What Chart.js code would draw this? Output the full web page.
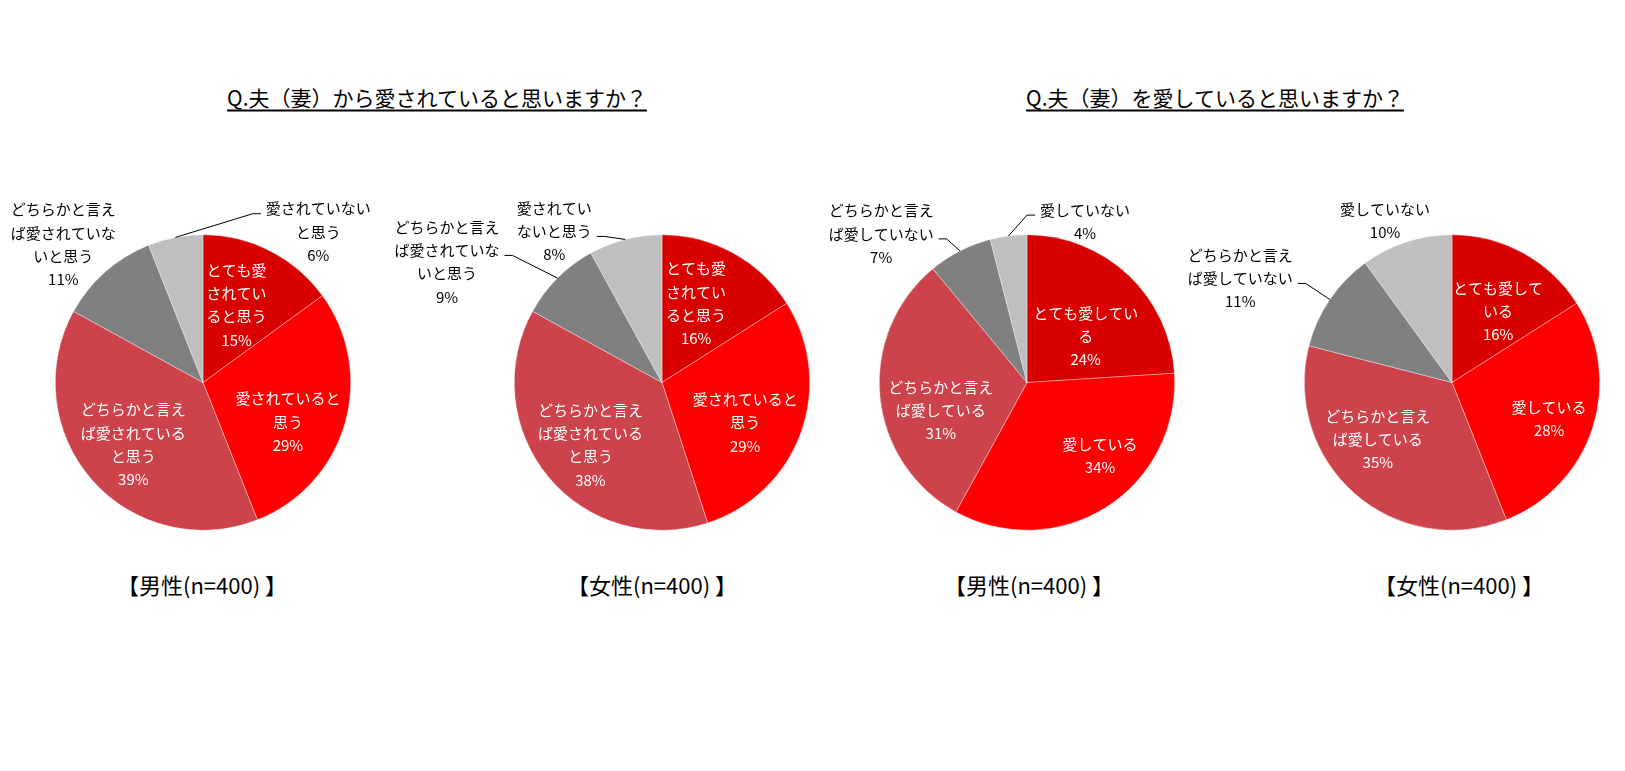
<!DOCTYPE html>
<html><head><meta charset="utf-8">
<script src="https://cdn.jsdelivr.net/npm/chart.js@4.4.0/dist/chart.umd.min.js"></script>
<style>
html,body{margin:0;padding:0;background:#fff;}
#wrap{position:relative;width:1625px;height:771px;overflow:hidden;background:#fff;}
canvas{position:absolute;left:0;top:0;}
.t{position:absolute;font-family:"Noto Sans CJK JP";color:#000;white-space:nowrap;transform:translate(-50%,-50%);line-height:1;}
.title{font-size:21px;text-decoration:underline;text-underline-offset:4px;text-decoration-thickness:1.5px;}
.sub{font-size:22px;}
</style></head>
<body>
<div id="wrap"></div>
<script>
// ---- data ----
const catsLoved = ["とても愛されていると思う","愛されていると思う","どちらかと言えば愛されていると思う","どちらかと言えば愛されていないと思う","愛されていないと思う"];
const catsLove = ["とても愛している","愛している","どちらかと言えば愛している","どちらかと言えば愛していない","愛していない"];
const lovedMale = [15,29,39,11,6];
const lovedFemale = [16,29,38,9,8];
const loveMale = [24,34,31,7,4];
const loveFemale = [16,28,35,11,10];
const titles = ["Q.夫（妻）から愛されていると思いますか？","Q.夫（妻）を愛していると思いますか？"];
const groupLabels = ["【男性(n=400) 】","【女性(n=400) 】","【男性(n=400) 】","【女性(n=400) 】"];
const colors = ["#D90000","#FF0000","#CC434B","#808080","#BFBFBF"];

// ---- layout ----
const W = 1625, H = 771, RAD = 148;
const charts = [
 {cats:catsLoved, data:lovedMale, cx:203, cy:382.5, wrap:[[4,8],[7],[7,14],[7,14],[7]],
  pos:[{k:.62,dx:-8,dy:4},{k:.62,dx:-3,dy:14},{k:.62,dx:-1,dy:1.5},{k:1,dx:-42,dy:-27,out:1},{k:1,dx:143,dy:-5.4,out:1,lead:0}]},
 {cats:catsLoved, data:lovedFemale, cx:662, cy:382.5, wrap:[[4,8],[7],[7,14],[7,14],[5]],
  pos:[{k:.62,dx:-10,dy:1.4},{k:.62,dx:-3,dy:9},{k:.62,dx:-1,dy:4},{k:1,dx:-110.6,dy:-16,out:1,lead:1},{k:1,dx:-71,dy:-8,out:1,lead:1}]},
 {cats:catsLove, data:loveMale, cx:1027, cy:382.5, wrap:[[7],[],[7],[7],[]],
  pos:[{k:.62,dx:-4,dy:20.6},{k:.62,dx:24,dy:-3.7},{k:.62,dx:5,dy:19},{k:1,dx:-78.8,dy:-17,out:1,lead:1},{k:1,dx:76.5,dy:-14.2,out:1,lead:0}]},
 {cats:catsLove, data:loveFemale, cx:1452, cy:382.5, wrap:[[6],[],[7],[7],[]],
  pos:[{k:.62,dx:2,dy:9},{k:.62,dx:10,dy:8},{k:.62,dx:-13.6,dy:-11.8},{k:1,dx:-89.6,dy:-21,out:1,lead:1},{k:1,dx:-21.3,dy:-21,out:1}]}
];
const titlePos = [[437,97],[1215,97]];
const subPos = [[202,584],[652,584],[1029,584],[1459,584]];

const wrap = document.getElementById('wrap');
function addText(txt, x, y, cls){
  const d = document.createElement('div');
  d.className = 't ' + cls; d.textContent = txt;
  d.style.left = x + 'px'; d.style.top = y + 'px';
  wrap.appendChild(d);
}
titles.forEach((t,i)=>addText(t, titlePos[i][0], titlePos[i][1], 'title'));
groupLabels.forEach((t,i)=>addText(t, subPos[i][0], subPos[i][1], 'sub'));

function splitAt(s, br){
  const out = []; let p = 0;
  br.forEach(b=>{ out.push(s.slice(p,b)); p = b; });
  out.push(s.slice(p));
  return out;
}

function makePlugin(L){
  return {
    id:'sliceLabels',
    afterDatasetsDraw(chart){
      const ctx = chart.ctx;
      const meta = chart.getDatasetMeta(0);
      const vals = chart.data.datasets[0].data;
      const cats = chart.data.labels;
      const LH = 23.3;
      ctx.save();
      ctx.font = '15px "Noto Sans CJK JP"';
      ctx.textAlign = 'center'; ctx.textBaseline = 'middle';
      meta.data.forEach((arc,i)=>{
        const p = arc.getProps(['x','y','startAngle','endAngle','outerRadius'], true);
        const mid = (p.startAngle + p.endAngle)/2;
        const cfg = L.pos[i];
        const R = p.outerRadius * cfg.k;
        const lx = p.x + Math.cos(mid)*R + cfg.dx;
        const ly = p.y + Math.sin(mid)*R + cfg.dy;
        const lines = splitAt(cats[i], L.wrap[i]).concat([vals[i] + '%']);
        const y0 = ly - (lines.length-1)*LH/2;
        ctx.fillStyle = cfg.out ? '#000' : '#fff';
        lines.forEach((s,j)=>ctx.fillText(s, lx, y0 + j*LH));
        if (cfg.lead !== undefined){
          const ex = p.x + Math.cos(mid)*p.outerRadius, ey = p.y + Math.sin(mid)*p.outerRadius;
          const yy = y0 + cfg.lead*LH + 5;
          const w = ctx.measureText(lines[cfg.lead]).width;
          const sx = lx < ex ? lx + w/2 + 5 : lx - w/2 - 5;
          const bx = lx < ex ? sx + 8 : sx - 8;
          ctx.beginPath(); ctx.moveTo(sx, yy); ctx.lineTo(bx, yy); ctx.lineTo(ex, ey);
          ctx.strokeStyle = '#000'; ctx.lineWidth = 1; ctx.stroke();
        }
      });
      ctx.restore();
    }
  };
}

charts.forEach(L=>{
  const c = document.createElement('canvas');
  c.width = W; c.height = H;
  c.style.width = W + 'px'; c.style.height = H + 'px';
  wrap.appendChild(c);
  new Chart(c, {
    type:'pie',
    data:{labels:L.cats, datasets:[{data:L.data, backgroundColor:colors, borderColor:'rgba(255,255,255,0.6)', borderWidth:0.6, hoverOffset:0}]},
    options:{
      responsive:false, animation:false, events:[], devicePixelRatio:1,
      layout:{padding:{left:L.cx-RAD, right:W-L.cx-RAD, top:L.cy-RAD, bottom:H-L.cy-RAD}},
      plugins:{legend:{display:false}, tooltip:{enabled:false}}
    },
    plugins:[makePlugin(L)]
  });
});
</script>
</body></html>
